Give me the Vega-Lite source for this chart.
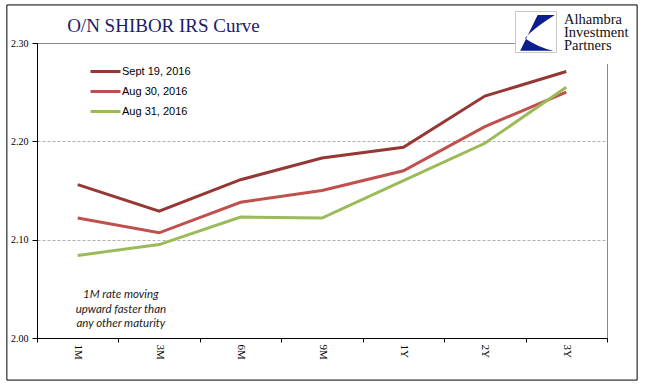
{
  "$schema": "https://vega.github.io/schema/vega-lite/v6.json",
  "width": 570,
  "height": 295,
  "autosize": {"type": "none"},
  "padding": {"left": 37, "top": 43, "right": 38, "bottom": 53},
  "background": "white",
  "datasets": {
    "curve": [
      {"Series": "Sept 19, 2016", "Tenor": "1M", "Rate": 2.156},
      {"Series": "Sept 19, 2016", "Tenor": "3M", "Rate": 2.129},
      {"Series": "Sept 19, 2016", "Tenor": "6M", "Rate": 2.161},
      {"Series": "Sept 19, 2016", "Tenor": "9M", "Rate": 2.183},
      {"Series": "Sept 19, 2016", "Tenor": "1Y", "Rate": 2.194},
      {"Series": "Sept 19, 2016", "Tenor": "2Y", "Rate": 2.246},
      {"Series": "Sept 19, 2016", "Tenor": "3Y", "Rate": 2.271},
      {"Series": "Aug 30, 2016", "Tenor": "1M", "Rate": 2.122},
      {"Series": "Aug 30, 2016", "Tenor": "3M", "Rate": 2.107},
      {"Series": "Aug 30, 2016", "Tenor": "6M", "Rate": 2.138},
      {"Series": "Aug 30, 2016", "Tenor": "9M", "Rate": 2.150},
      {"Series": "Aug 30, 2016", "Tenor": "1Y", "Rate": 2.170},
      {"Series": "Aug 30, 2016", "Tenor": "2Y", "Rate": 2.215},
      {"Series": "Aug 30, 2016", "Tenor": "3Y", "Rate": 2.250},
      {"Series": "Aug 31, 2016", "Tenor": "1M", "Rate": 2.084},
      {"Series": "Aug 31, 2016", "Tenor": "3M", "Rate": 2.095},
      {"Series": "Aug 31, 2016", "Tenor": "6M", "Rate": 2.123},
      {"Series": "Aug 31, 2016", "Tenor": "9M", "Rate": 2.122},
      {"Series": "Aug 31, 2016", "Tenor": "1Y", "Rate": 2.160},
      {"Series": "Aug 31, 2016", "Tenor": "2Y", "Rate": 2.198},
      {"Series": "Aug 31, 2016", "Tenor": "3Y", "Rate": 2.255}
    ],
    "note": [
      {"Tenor": "3M", "Rate": 2.0437, "Text": "1M rate moving"},
      {"Tenor": "3M", "Rate": 2.0284, "Text": "upward faster than"},
      {"Tenor": "3M", "Rate": 2.0141, "Text": "any other maturity"}
    ],
    "titleText": [
      {"Tenor": "1M", "Rate": 2.3112, "Text": "O/N SHIBOR IRS Curve"}
    ],
    "logoText": [
      {"Tenor": "3Y", "Rate": 2.3234, "Text": "Alhambra"},
      {"Tenor": "3Y", "Rate": 2.3102, "Text": "Investment"},
      {"Tenor": "3Y", "Rate": 2.2970, "Text": "Partners"}
    ],
    "logoMark": [
      {"Tenor": "3Y", "Rate": 2.3112}
    ],
    "logoCover": [
      {"Tenor": "3Y", "Rate": 2.3051}
    ],
    "frame": [
      {"Tenor": "1M", "Tenor2": "3Y", "Rate": 1.9572, "Rate2": 2.3387}
    ]
  },
  "layer": [
    {
      "data": {"name": "curve"},
      "mark": {"type": "line", "strokeWidth": 3, "strokeJoin": "miter"},
      "encoding": {
        "x": {
          "field": "Tenor",
          "type": "ordinal",
          "bandPosition": 0.5,
          "scale": {"type": "band", "domain": ["1M", "3M", "6M", "9M", "1Y", "2Y", "3Y"], "paddingInner": 0, "paddingOuter": 0},
          "axis": {
            "title": null,
            "labelAngle": 90,
            "labelAlign": "left",
            "labelBaseline": "middle",
            "labelFont": "Liberation Serif",
            "labelFontSize": 11,
            "labelColor": "#000",
            "labelPadding": 2,
            "tickBand": "extent",
            "tickSize": 4,
            "tickColor": "#000",
            "domainColor": "#000",
            "grid": false
          }
        },
        "y": {
          "field": "Rate",
          "type": "quantitative",
          "scale": {"domain": [2.0, 2.3], "zero": false, "nice": false},
          "axis": {
            "title": null,
            "values": [2.0, 2.1, 2.2, 2.3],
            "format": ".2f",
            "labelFont": "Liberation Serif",
            "labelFontSize": 10,
            "labelColor": "#000",
            "labelPadding": 4,
            "tickSize": 5,
            "tickColor": "#000",
            "domainColor": "#000",
            "grid": true,
            "gridColor": {"condition": {"test": "datum.value >= 2.29", "value": "#8a8a8a"}, "value": "#b0b0b0"},
            "gridDash": {"condition": {"test": "datum.value >= 2.29", "value": []}, "value": [3, 2]},
            "gridWidth": 1
          }
        },
        "color": {
          "field": "Series",
          "type": "nominal",
          "scale": {
            "domain": ["Sept 19, 2016", "Aug 30, 2016", "Aug 31, 2016"],
            "range": ["#953735", "#C0504D", "#9BBB59"]
          },
          "legend": {
            "title": null,
            "orient": "none",
            "legendX": 57,
            "legendY": 17,
            "symbolType": "M-1.5,0L1.5,0",
            "symbolSize": 400,
            "symbolStrokeWidth": 3,
            "labelFont": "Liberation Sans",
            "labelFontSize": 11,
            "labelColor": "#000",
            "labelOffset": 5,
            "rowPadding": 2
          }
        }
      }
    },
    {
      "data": {"name": "note"},
      "mark": {"type": "text", "font": "Lato", "fontStyle": "italic", "fontSize": 11.5, "color": "#222", "align": "center", "baseline": "middle"},
      "encoding": {
        "x": {"field": "Tenor", "type": "ordinal", "bandPosition": 0.03, "axis": {"title": null}},
        "y": {"field": "Rate", "type": "quantitative", "axis": {"title": null}},
        "text": {"field": "Text"}
      }
    },
    {
      "data": {"name": "titleText"},
      "mark": {"type": "text", "font": "Liberation Serif", "fontSize": 19, "color": "#1c1c6b", "align": "left", "baseline": "alphabetic"},
      "encoding": {
        "x": {"field": "Tenor", "type": "ordinal", "bandPosition": 0.37, "axis": {"title": null}},
        "y": {"field": "Rate", "type": "quantitative", "axis": {"title": null}},
        "text": {"field": "Text"}
      }
    },
    {
      "data": {"name": "logoCover"},
      "mark": {"type": "point", "shape": "square", "size": 2704, "filled": true, "fill": "white", "strokeWidth": 0, "opacity": 1},
      "encoding": {
        "x": {"field": "Tenor", "type": "ordinal", "bandPosition": 0.693, "axis": {"title": null}},
        "y": {"field": "Rate", "type": "quantitative", "axis": {"title": null}}
      }
    },
    {
      "data": {"name": "logoMark"},
      "mark": {"type": "point", "shape": "square", "size": 1681, "filled": true, "fill": "white", "stroke": "#c8c8c8", "strokeWidth": 1, "opacity": 1},
      "encoding": {
        "x": {"field": "Tenor", "type": "ordinal", "bandPosition": 0.128, "axis": {"title": null}},
        "y": {"field": "Rate", "type": "quantitative", "axis": {"title": null}}
      }
    },
    {
      "data": {"name": "logoMark"},
      "mark": {"type": "point", "shape": "M0.08,-0.83 L0.92,-0.83 Q-0.1,-0.2 -0.54,0.3 Q0.1,0.75 0.85,0.91 L-0.77,0.91 Z", "size": 1681, "filled": true, "fill": "#0b1f8f", "strokeWidth": 0, "opacity": 1},
      "encoding": {
        "x": {"field": "Tenor", "type": "ordinal", "bandPosition": 0.128, "axis": {"title": null}},
        "y": {"field": "Rate", "type": "quantitative", "axis": {"title": null}}
      }
    },
    {
      "data": {"name": "logoText"},
      "mark": {"type": "text", "font": "Liberation Serif", "fontSize": 14.5, "color": "#111", "align": "left", "baseline": "middle"},
      "encoding": {
        "x": {"field": "Tenor", "type": "ordinal", "bandPosition": 0.472, "axis": {"title": null}},
        "y": {"field": "Rate", "type": "quantitative", "axis": {"title": null}},
        "text": {"field": "Text"}
      }
    },
    {
      "data": {"name": "frame"},
      "mark": {"type": "rect", "fill": null, "filled": false, "stroke": "#000", "strokeWidth": 1},
      "encoding": {
        "x": {"field": "Tenor", "type": "ordinal", "bandPosition": -0.37, "axis": {"title": null}},
        "x2": {"field": "Tenor2", "bandPosition": 1.37},
        "y": {"field": "Rate", "type": "quantitative", "axis": {"title": null}},
        "y2": {"field": "Rate2"}
      }
    }
  ],
  "config": {
    "view": {"stroke": "#8a8a8a", "strokeWidth": 1},
    "axis": {"domainWidth": 1, "tickWidth": 1}
  }
}
